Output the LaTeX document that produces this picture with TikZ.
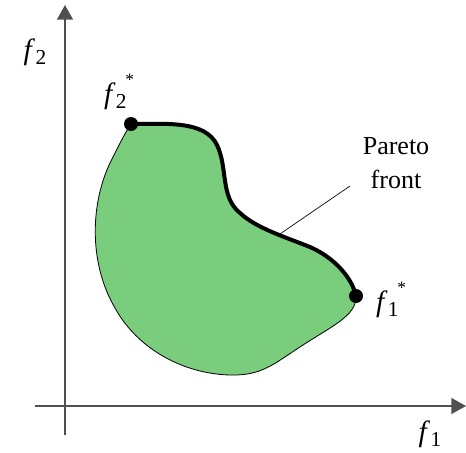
\documentclass[tikz,border=0pt]{standalone}
\usepackage{fontspec}
\setmainfont{Liberation Serif}
\usetikzlibrary{arrows.meta}
\definecolor{regiongreen}{RGB}{122,205,124}
\definecolor{axisgray}{RGB}{80,80,80}
\newcommand{\flab}[2]{{\fontsize{22}{24}\selectfont\textit{f}}\kern0.3pt\raisebox{-0.45ex}{\fontsize{16}{16}\selectfont #1}#2}
\newcommand{\fstar}{\kern-1pt\raisebox{1.45ex}{\fontsize{13}{13}\selectfont *}}
\begin{document}
\begin{tikzpicture}[x=0.75pt,y=-0.75pt,
  axis/.style={draw=axisgray,line width=1.1pt,-{Triangle[length=11pt,width=12pt]}},
  lab/.style={font=\fontsize{19.5}{23}\selectfont,inner sep=0pt},
  front/.style={line width=3pt,line cap=round},
  dot/.style={circle,fill=black,inner sep=0pt,minimum size=10.5pt}]
\useasboundingbox (0,0) rectangle (466,452);
% axes
\coordinate (ybot) at (65,435);
\coordinate (ytop) at (65,5);
\coordinate (xleft) at (35,406);
\coordinate (xright) at (466,406);
\draw[axis] (ybot) -- (ytop);
\draw[axis] (xleft) -- (xright);
% region
\coordinate (A) at (131,124);
\coordinate (B) at (356,296);
\filldraw[fill=regiongreen,draw=black,line width=0.6pt]
  (A) .. controls (165,124) and (205,120) .. (217,145)
  .. controls (228,168) and (220,197) .. (240,213)
  .. controls (256,228) and (285,237) .. (310,247)
  .. controls (335,258) and (352,278) .. (B)
  .. controls (357,316) and (330,327) .. (300,347)
  .. controls (275,363) and (262,376) .. (230,375)
  .. controls (185,374) and (138,350) .. (115,308)
  .. controls (88,262) and (90,200) .. (113,157)
  .. controls (120,143) and (125,133) .. (A) -- cycle;
% Pareto front
\draw[front] (A) .. controls (165,124) and (205,120) .. (217,145)
  .. controls (228,168) and (220,197) .. (240,213)
  .. controls (256,228) and (285,237) .. (310,247)
  .. controls (335,258) and (352,278) .. (B);
\node[dot] (p2) at (A) {};
\node[dot] (p1) at (B) {};
% labels
\node[lab] (f2) at (35,52) {\flab{2}{}};
\node[lab] (f1) at (430,434) {\flab{1}{}};
\node[lab] (f2s) at (119,92) {\flab{2}{\fstar}};
\node[lab] (f1s) at (391,300) {\flab{1}{\fstar}};
\node[lab,align=center,font=\fontsize{19.5}{25}\selectfont] (pf) at (396,163) {Pareto\\front};
\coordinate (pfend) at (277,236);
\coordinate (pfstart) at (350,186);
\draw[line width=0.5pt] (pfstart) -- (pfend);
\end{tikzpicture}
\end{document}
